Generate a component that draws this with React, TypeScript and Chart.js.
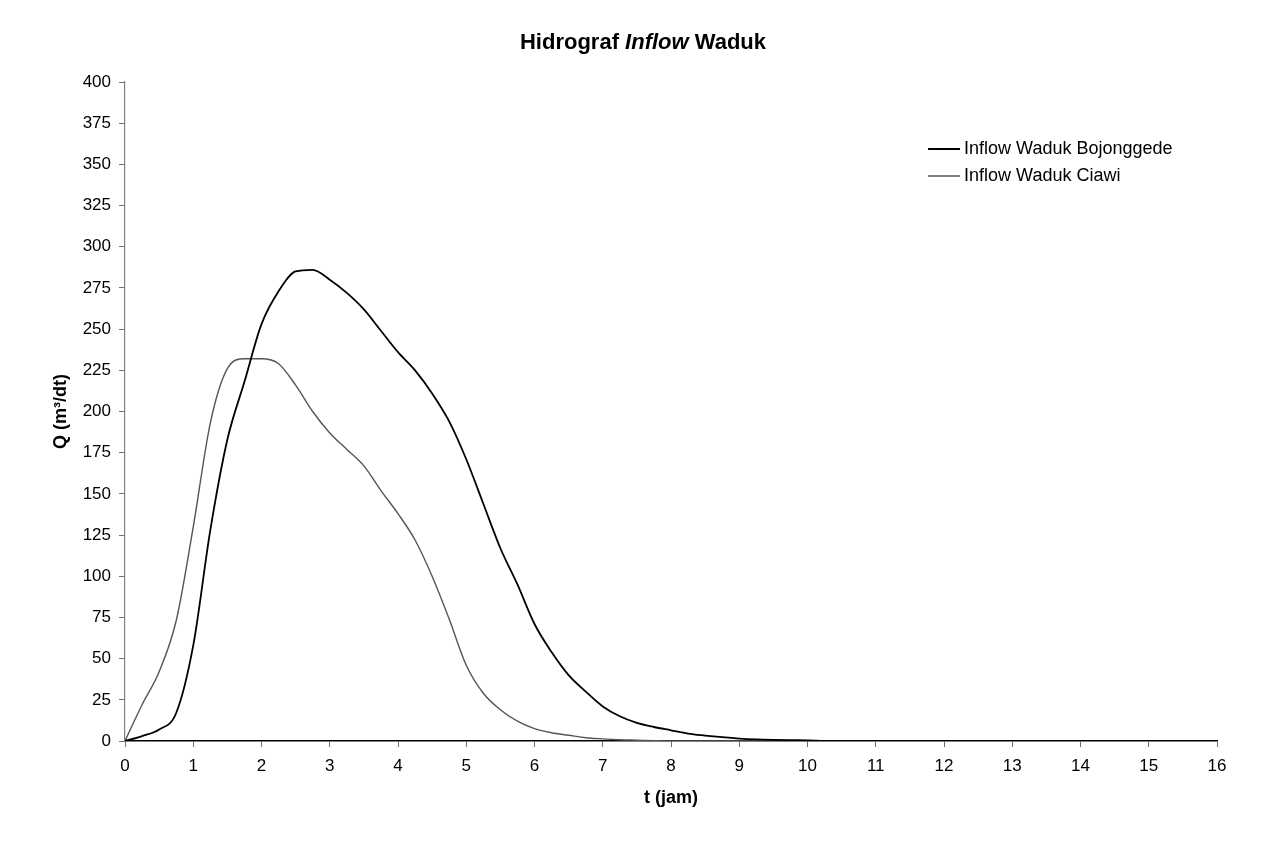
import React, { useEffect, useRef } from "react";
import { Chart, registerables } from "chart.js";

Chart.register(...registerables);

// time (hours)
const timeHours = [
  0, 0.25, 0.5, 0.75, 1, 1.25, 1.5, 1.75, 2, 2.25, 2.5, 2.75, 3, 3.25, 3.5, 3.75,
  4, 4.25, 4.5, 4.75, 5, 5.25, 5.5, 5.75, 6, 6.25, 6.5, 6.75, 7, 7.25, 7.5, 7.75,
  8, 8.25, 8.5, 8.75, 9, 9.25, 9.5, 9.75, 10, 10.25, 10.5, 11, 12, 13, 14, 15, 16,
];

// Inflow Waduk Bojonggede (m3/dt)
const bojonggede = [
  0, 3, 7, 17, 58, 128, 183, 218, 253, 273, 285, 286, 280, 272, 262, 249,
  236, 225, 211, 194, 171, 144, 117, 95, 71, 54, 40, 30, 21, 15, 11, 8.5,
  6.5, 4.5, 3.3, 2.3, 1.5, 1, 0.7, 0.5, 0.4, 0.1, 0, 0, 0, 0, 0, 0, 0,
];

// Inflow Waduk Ciawi (m3/dt)
const ciawi = [
  0, 22, 42, 73, 130, 193, 226, 232, 232, 229, 216, 200, 187, 177, 167, 152,
  138, 122, 100, 74, 46, 29, 19, 12, 7.5, 5, 3.5, 2, 1.3, 0.8, 0.5, 0.2,
  0, 0, 0, 0, 0, 0, 0, 0, 0, 0, 0, 0, 0, 0, 0, 0, 0,
];

const seriesLabels = ["Inflow Waduk Bojonggede", "Inflow Waduk Ciawi"];
const titleParts = [
  { text: "Hidrograf ", italic: false },
  { text: "Inflow", italic: true },
  { text: " Waduk", italic: false },
];
const xAxisTitle = "t (jam)";
const yAxisTitle = "Q (m³/dt)";

const FONT = "'Liberation Sans', Arial, sans-serif";

const titlePlugin = {
  id: "mixedTitle",
  afterDraw(chart: any) {
    const ctx = chart.ctx;
    ctx.save();
    ctx.fillStyle = "#000";
    ctx.textBaseline = "middle";
    ctx.textAlign = "left";
    const fonts = titleParts.map((p) =>
      `${p.italic ? "italic " : ""}bold 22px ${FONT}`
    );
    let total = 0;
    const widths = titleParts.map((p, i) => {
      ctx.font = fonts[i];
      const w = ctx.measureText(p.text).width;
      total += w;
      return w;
    });
    let x = chart.width / 2 + 7 - total / 2;
    const y = 35;
    titleParts.forEach((p, i) => {
      ctx.font = fonts[i];
      ctx.fillText(p.text, x, y);
      x += widths[i];
    });
    ctx.restore();
  },
};

const legendPlugin = {
  id: "insideLegend",
  afterDraw(chart: any) {
    const { ctx, chartArea } = chart;
    const w = chartArea.right - chartArea.left;
    const h = chartArea.bottom - chartArea.top;
    const x0 = chartArea.left + w * 0.7354;
    const ys = [0.1017, 0.1426];
    ctx.save();
    ctx.font = `18px ${FONT}`;
    ctx.textBaseline = "middle";
    ctx.textAlign = "left";
    chart.data.datasets.forEach((ds: any, i: number) => {
      const y = chartArea.top + h * ys[i];
      ctx.strokeStyle = ds.borderColor;
      ctx.lineWidth = ds.borderWidth;
      ctx.beginPath();
      ctx.moveTo(x0, y);
      ctx.lineTo(x0 + 32, y);
      ctx.stroke();
      ctx.fillStyle = "#000";
      ctx.fillText(ds.label, x0 + 36, y);
    });
    ctx.restore();
  },
};

export default function App() {
  const canvasRef = useRef<HTMLCanvasElement | null>(null);

  useEffect(() => {
    if (!canvasRef.current) return;
    const toPoints = (vals: number[]) =>
      timeHours.map((t, i) => ({ x: t, y: vals[i] }));

    const chart = new Chart(canvasRef.current, {
      type: "line",
      data: {
        datasets: [
          {
            label: seriesLabels[0],
            data: toPoints(bojonggede),
            borderColor: "#000000",
            borderWidth: 1.8,
            pointRadius: 0,
            fill: false,
            cubicInterpolationMode: "monotone",
          },
          {
            label: seriesLabels[1],
            data: toPoints(ciawi),
            borderColor: "#555555",
            borderWidth: 1.4,
            pointRadius: 0,
            fill: false,
            cubicInterpolationMode: "monotone",
          },
        ],
      },
      options: {
        animation: false,
        responsive: false,
        devicePixelRatio: 1,
        layout: { padding: { left: 38, right: 47, top: 74, bottom: 43 } },
        plugins: {
          legend: { display: false },
          title: { display: false },
          tooltip: { enabled: false },
        },
        scales: {
          x: {
            type: "linear",
            min: 0,
            max: 16,
            ticks: {
              stepSize: 1,
              color: "#000",
              font: { family: FONT, size: 17 },
              padding: 9,
              maxRotation: 0,
            },
            grid: {
              drawOnChartArea: false,
              drawTicks: true,
              tickLength: 6,
              color: "#707070",
            },
            border: { display: true, color: "#000", width: 1.5 },
            title: {
              display: true,
              text: xAxisTitle,
              color: "#000",
              font: { family: FONT, size: 18, weight: "bold" },
            },
            afterFit: (scale: any) => {
              scale.height = 72;
            },
          },
          y: {
            type: "linear",
            min: 0,
            max: 400,
            ticks: {
              stepSize: 25,
              color: "#000",
              font: { family: FONT, size: 17 },
              padding: 8,
            },
            grid: {
              drawOnChartArea: false,
              drawTicks: true,
              tickLength: 6,
              color: "#707070",
            },
            border: { display: true, color: "#808080", width: 1.2 },
            title: {
              display: true,
              text: yAxisTitle,
              color: "#000",
              font: { family: FONT, size: 18, weight: "bold" },
            },
            afterFit: (scale: any) => {
              scale.width = 79;
            },
          },
        },
      },
      plugins: [titlePlugin, legendPlugin],
    } as any);

    return () => chart.destroy();
  }, []);

  return (
    <div style={{ width: 1256, height: 848, background: "#fff" }}>
      <canvas ref={canvasRef} width={1256} height={848} />
    </div>
  );
}
